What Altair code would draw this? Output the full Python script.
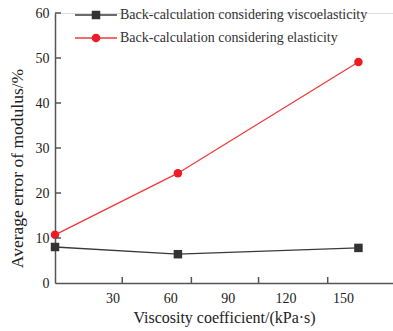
import altair as alt
import pandas as pd

viscosity = [0, 64, 158]
visco_err = [8.0, 6.4, 7.8]
elastic_err = [10.7, 24.4, 49.1]
series_names = ["Back-calculation considering viscoelasticity",
                "Back-calculation considering elasticity"]
x_labels = [30, 60, 90, 120, 150]
x_tick_marks = [35, 71, 106, 142]
y_labels = [0, 10, 20, 30, 40, 50, 60]

rows = []
for v, a, b in zip(viscosity, visco_err, elastic_err):
    rows.append({"x": v, "y": a, "s": series_names[0]})
    rows.append({"x": v, "y": b, "s": series_names[1]})
df = pd.DataFrame(rows)
xt = pd.DataFrame({"t": x_tick_marks})
yt = pd.DataFrame({"t": [v for v in y_labels if v > 0]})

FONT = "Liberation Serif"
xscale = alt.Scale(domain=[0, 176], nice=False, zero=False)
yscale = alt.Scale(domain=[0, 60], nice=False)
cscale = alt.Scale(domain=series_names, range=["#3a3a3a", "#f03a3a"])
fscale = alt.Scale(domain=series_names, range=["#333333", "#ee1c25"])
sscale = alt.Scale(domain=series_names, range=["square", "circle"])

xaxis = alt.Axis(values=x_labels, title="Viscosity coefficient/(kPa·s)", ticks=False,
                 grid=False, labelPadding=8, titlePadding=4, titleFontSize=16)
yaxis = alt.Axis(values=y_labels, title="Average error of modulus/%", ticks=False,
                 grid=False, labelPadding=6, titlePadding=9, titleFontSize=17.5,
                 titleY=155)

lines = alt.Chart(df).mark_line(strokeWidth=1.3).encode(
    x=alt.X("x:Q", scale=xscale, axis=xaxis),
    y=alt.Y("y:Q", scale=yscale, axis=yaxis),
    color=alt.Color("s:N", scale=cscale, sort=series_names,
                    legend=alt.Legend(title=None, orient="none", legendX=34, legendY=-5,
                                      symbolType="M-4.2,0H4.2", symbolSize=100,
                                      symbolStrokeWidth=1.3, labelFont=FONT,
                                      labelFontSize=14, labelColor="#333",
                                      rowPadding=9, labelOffset=17, labelLimit=0)),
)
points = alt.Chart(df).mark_point(filled=True, size=72, opacity=1).encode(
    x="x:Q", y="y:Q",
    fill=alt.Fill("s:N", scale=fscale, sort=series_names,
                  legend=alt.Legend(title=None, orient="none", legendX=34, legendY=-5,
                                    symbolSize=72, labelExpr="''",
                                    labelFont=FONT, labelFontSize=14, rowPadding=9,
                                    symbolStrokeWidth=0, labelLimit=0)),
    shape=alt.Shape("s:N", scale=sscale, sort=series_names),
)
xticks = alt.Chart(xt).mark_rule(color="#555", strokeWidth=1.5).encode(
    x="t:Q", y=alt.value(270), y2=alt.value(264))
yticks = alt.Chart(yt).mark_rule(color="#555", strokeWidth=1.5).encode(
    y="t:Q", x=alt.value(0), x2=alt.value(6))

chart = alt.layer(lines, points, xticks, yticks).resolve_legend(
    color="independent", fill="independent", shape="independent"
).properties(
    width=338, height=270,
    padding={"left": 55, "top": 13, "right": 0, "bottom": 48},
    autosize=alt.AutoSizeParams(type="none"),
).configure_view(stroke=None).configure(font=FONT).configure_axis(
    labelFont=FONT, labelFontSize=14, labelColor="#222",
    titleFont=FONT, titleFontWeight="normal", titleColor="#222",
    domainColor="#555", domainWidth=1.5,
)

chart.save("out.html", embed_options={"renderer": "svg", "actions": False})
